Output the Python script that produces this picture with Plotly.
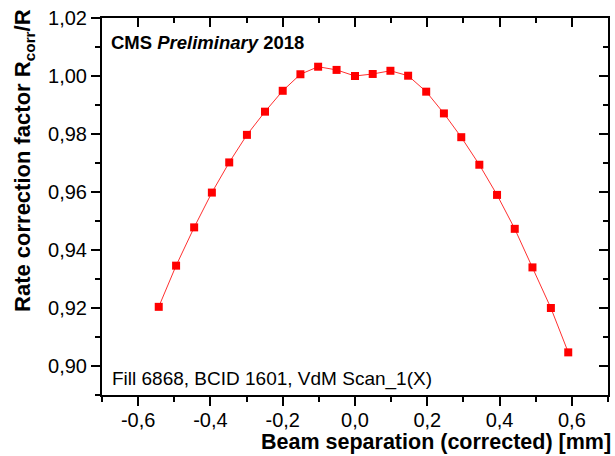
import plotly.graph_objects as go

# Data
beam_sep = [-0.543, -0.495, -0.445, -0.396, -0.348, -0.299, -0.249, -0.200, -0.151, -0.102,
            -0.051, 0.000, 0.049, 0.098, 0.147, 0.197, 0.246, 0.294, 0.344, 0.393,
            0.442, 0.491, 0.542, 0.590]
corr_factor = [0.9204, 0.9346, 0.9478, 0.9598, 0.9702, 0.9797, 0.9877, 0.9949, 1.0006, 1.0032,
               1.0021, 1.0000, 1.0007, 1.0018, 1.0001, 0.9946, 0.9871, 0.9789, 0.9694, 0.9590,
               0.9473, 0.9340, 0.9200, 0.9047]

x_tickvals = [-0.6, -0.4, -0.2, 0.0, 0.2, 0.4, 0.6]
x_ticktext = ["-0,6", "-0,4", "-0,2", "0,0", "0,2", "0,4", "0,6"]
y_tickvals = [0.90, 0.92, 0.94, 0.96, 0.98, 1.00, 1.02]
y_ticktext = ["0,90", "0,92", "0,94", "0,96", "0,98", "1,00", "1,02"]

FONT = "Liberation Sans, Arial, sans-serif"

fig = go.Figure()
fig.add_trace(go.Scatter(
    x=beam_sep, y=corr_factor, mode="lines+markers",
    line=dict(color="#ff3030", width=1),
    marker=dict(symbol="square", size=8, color="#ff0000", line=dict(width=0)),
    showlegend=False, hoverinfo="skip",
))
# invisible trace to activate the mirror axes
fig.add_trace(go.Scatter(x=[None], y=[None], xaxis="x2", yaxis="y2", showlegend=False, hoverinfo="skip"))

xr = [-0.7, 0.7]
yr = [0.89, 1.02]
common = dict(showline=True, linecolor="black", linewidth=2, showgrid=False, zeroline=False,
              ticklen=9, tickwidth=2, tickcolor="black")

fig.update_layout(
    width=615, height=456,
    margin=dict(l=102, r=7, t=18, b=61),
    paper_bgcolor="white", plot_bgcolor="white",
    font=dict(family=FONT, size=20, color="black"),
    xaxis=dict(range=xr, tickvals=x_tickvals, ticktext=x_ticktext, ticks="outside",
               minor=dict(dtick=0.1, tick0=-0.7, ticks="outside", ticklen=5, tickwidth=2, tickcolor="black"),
               tickfont=dict(size=20), ticklabelstandoff=-3, **common),
    yaxis=dict(range=yr, tickvals=y_tickvals, ticktext=y_ticktext, ticks="outside",
               minor=dict(dtick=0.01, tick0=0.89, ticks="outside", ticklen=5, tickwidth=2, tickcolor="black"),
               tickfont=dict(size=20), **common),
    xaxis2=dict(range=xr, overlaying="x", side="top", tickvals=x_tickvals, ticks="inside",
                showticklabels=False,
                minor=dict(dtick=0.1, tick0=-0.7, ticks="inside", ticklen=5, tickwidth=2, tickcolor="black"),
                **common),
    yaxis2=dict(range=yr, overlaying="y", side="right", tickvals=y_tickvals, ticks="inside",
                showticklabels=False,
                minor=dict(dtick=0.01, tick0=0.89, ticks="inside", ticklen=5, tickwidth=2, tickcolor="black"),
                **common),
    annotations=[
        dict(text="<b>CMS <i>Preliminary</i> 2018</b>", xref="paper", yref="paper",
             x=0.014, y=0.968, xanchor="left", yanchor="top", showarrow=False,
             font=dict(size=18.5, family=FONT)),
        dict(text="Fill 6868, BCID 1601, VdM Scan_1(X)", xref="paper", yref="paper",
             x=0.016, y=0.008, xanchor="left", yanchor="bottom", showarrow=False,
             font=dict(size=19, family=FONT)),
        dict(text="<b>Beam separation (corrected) [mm]</b>", xref="paper", yref="paper",
             x=1.01, y=-0.161, xanchor="right", yanchor="bottom", showarrow=False,
             font=dict(size=21.5, family=FONT)),
        dict(text="<b>Rate correction factor R<sub>corr</sub>/R</b>", xref="paper", yref="paper",
             x=-0.154, y=0.621, xanchor="center", yanchor="middle", textangle=-90, showarrow=False,
             font=dict(size=22, family=FONT)),
    ],
)

fig.write_html("out.html")
